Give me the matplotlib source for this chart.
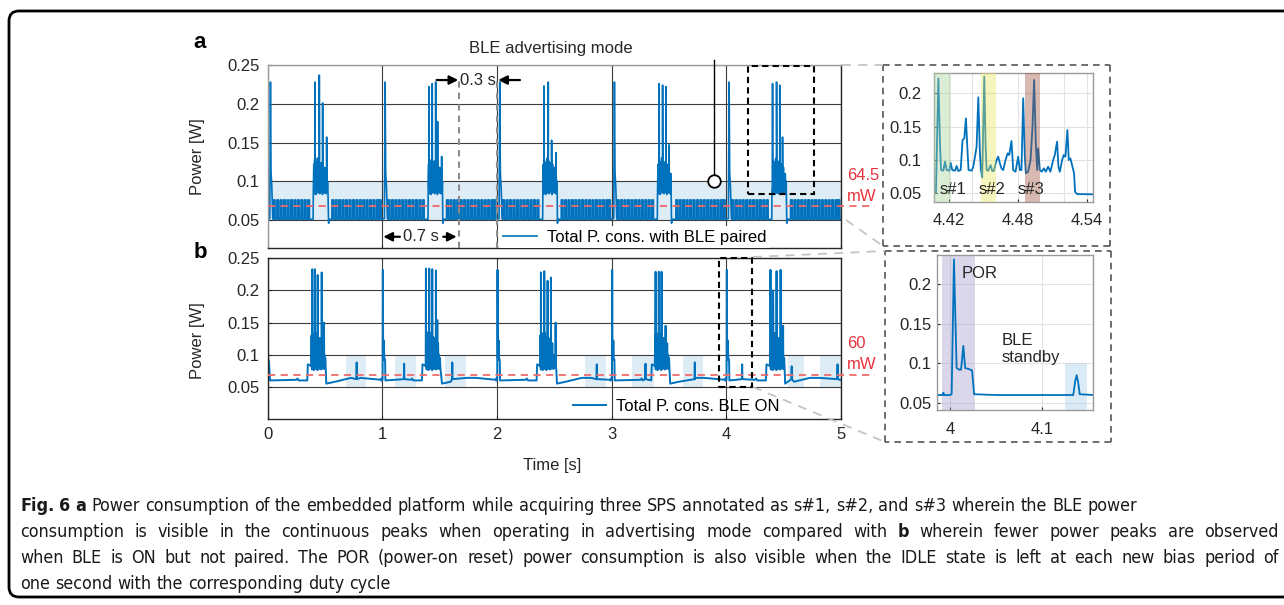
import numpy as np
import matplotlib.pyplot as plt
from matplotlib.patches import Rectangle, FancyBboxPatch
from matplotlib.lines import Line2D
from matplotlib.transforms import IdentityTransform

W, H = 1284, 605
plt.rcParams['font.family'] = ['Liberation Sans', 'DejaVu Sans']
plt.rcParams['axes.linewidth'] = 1.0

BLUE = '#0072BD'
RED = '#e8333d'
INK = '#262626'

# ---------------- data ----------------
cycles = [0, 1, 2, 3, 4]
y_ticks = [0.05, 0.1, 0.15, 0.2, 0.25]
y_labels = ['0.05', '0.1', '0.15', '0.2', '0.25']
x_ticks = [0, 1, 2, 3, 4, 5]

# (a) BLE advertising mode
a_ripple_on = [0.050, 0.080, 0.110, 0.140, 0.170, 0.200, 0.230, 0.260, 0.290, 0.320, 0.350,
               0.560, 0.590, 0.620, 0.650, 0.680, 0.710, 0.740, 0.770, 0.800, 0.830, 0.860,
               0.890, 0.920, 0.950, 0.975]
a_ripple_lo, a_ripple_hi, a_ripple_w = 0.051, 0.076, 0.014
a_por_dt = [0.018, 0.024, 0.029, 0.036, 0.044]
a_por_p = [0.052, 0.228, 0.112, 0.092, 0.052]
a_burst_start = [0.398, 1.400, 2.400, 3.400, 4.398]
a_burst_end = [0.529, 1.525, 2.525, 3.520, 4.525]
a_burst_fill = [0.088, 0.122, 0.084, 0.128, 0.090, 0.118, 0.083, 0.125, 0.092, 0.130, 0.085,
                0.120, 0.088, 0.126, 0.084, 0.115, 0.090, 0.124, 0.086, 0.118, 0.083, 0.122,
                0.089, 0.112, 0.085, 0.118, 0.087, 0.108, 0.084, 0.110, 0.086, 0.100, 0.084]
a_peak_t = [[0.412, 0.450, 0.479, 0.514],
            [1.406, 1.435, 1.465, 1.482, 1.517],
            [2.409, 2.447, 2.476, 2.514],
            [3.414, 3.444, 3.473, 3.501],
            [4.403, 4.438, 4.466, 4.490]]
a_peak_p = [[0.228, 0.237, 0.201, 0.157],
            [0.222, 0.226, 0.228, 0.177, 0.132],
            [0.223, 0.228, 0.153, 0.137],
            [0.226, 0.224, 0.222, 0.147],
            [0.226, 0.228, 0.224, 0.157]]
a_mean = 0.0685

# (b) BLE ON, not paired
b_start_t = [0.000, 0.004, 0.012, 0.020]
b_start_p = [0.122, 0.095, 0.088, 0.060]
b_por_dt = [-0.0080, -0.0072, -0.0064, 0.0018, 0.0043, 0.0072, 0.0120, 0.0135, 0.0145,
            0.0160, 0.0220, 0.0240, 0.0262]
b_por_p = [0.060, 0.063, 0.060, 0.061, 0.232, 0.094, 0.092, 0.094, 0.122,
           0.094, 0.093, 0.092, 0.060]
b_pre_dt = [0.030, 0.250, 0.260, 0.270, 0.345, 0.350]
b_pre_p = [0.060, 0.061, 0.063, 0.060, 0.060, 0.085]
b_burst_start = [0.378, 1.378, 2.374, 3.376, 4.380]
b_burst_end = [0.508, 1.517, 2.520, 3.507, 4.510]
b_burst_fill = [0.082, 0.130, 0.077, 0.135, 0.080, 0.125, 0.076, 0.132, 0.084, 0.120, 0.078,
                0.134, 0.080, 0.118, 0.076, 0.128, 0.082, 0.122, 0.078, 0.126, 0.080, 0.115,
                0.077, 0.124, 0.080, 0.112, 0.078, 0.118, 0.080, 0.100, 0.078, 0.095, 0.080]
b_post_dt = [0.003, 0.080, 0.220, 0.300]
b_post_p = [0.055, 0.058, 0.064, 0.064]
b_cycle_end_p = 0.061
b_peak_t = [[0.389, 0.412, 0.436, 0.471, 0.491],
            [1.380, 1.409, 1.435, 1.467, 1.479],
            [2.383, 2.412, 2.441, 2.470, 2.511],
            [3.383, 3.411, 3.435, 3.470],
            [4.385, 4.408, 4.438, 4.473, 4.495]]
b_peak_p = [[0.233, 0.233, 0.224, 0.228, 0.150],
            [0.234, 0.234, 0.233, 0.231, 0.154],
            [0.228, 0.230, 0.215, 0.220, 0.150],
            [0.229, 0.229, 0.229, 0.145],
            [0.232, 0.200, 0.230, 0.232, 0.145]]
b_standby_t = [0.776, 1.190, 1.610, 2.870, 3.295, 3.725, 4.138, 4.570, 4.970]
b_standby_p = [0.088, 0.086, 0.088, 0.085, 0.086, 0.088, 0.085, 0.082, 0.085]
b_shade = [(0.68, 0.855), (1.11, 1.29), (1.545, 1.726), (2.77, 2.95), (3.18, 3.37),
           (3.62, 3.80), (4.54, 4.68), (4.815, 5.0)]
b_mean = 0.069

# inset of (a): three SPS acquisitions
ia_t = [4.4073, 4.4087, 4.4099, 4.4108, 4.4122, 4.4131, 4.4151, 4.4166, 4.4180, 4.4203,
        4.4215, 4.4229, 4.4253, 4.4267, 4.4282, 4.4302, 4.4319, 4.4334, 4.4348, 4.4360,
        4.4371, 4.4398, 4.4412, 4.4427, 4.4441, 4.4456, 4.4470, 4.4479, 4.4490, 4.4499,
        4.4508, 4.4519, 4.4528, 4.4542, 4.4563, 4.4577, 4.4592, 4.4615, 4.4629, 4.4644,
        4.4658, 4.4673, 4.4693, 4.4711, 4.4725, 4.4745, 4.4760, 4.4780, 4.4803, 4.4818,
        4.4832, 4.4847, 4.4861, 4.4870, 4.4890, 4.4911, 4.4928, 4.4942, 4.4957, 4.4969,
        4.4977, 4.4992, 4.5009, 4.5027, 4.5044, 4.5064, 4.5084, 4.5108, 4.5122, 4.5142,
        4.5154, 4.5166, 4.5186, 4.5200, 4.5215, 4.5232, 4.5244, 4.5258, 4.5276, 4.5290,
        4.5299, 4.5316, 4.5455]
ia_p = [0.0515, 0.0515, 0.150, 0.2225, 0.125, 0.085, 0.084, 0.0975, 0.085, 0.084,
        0.096, 0.085, 0.084, 0.091, 0.0835, 0.085, 0.130, 0.1325, 0.1625, 0.120,
        0.085, 0.084, 0.090, 0.105, 0.120, 0.194, 0.110, 0.085, 0.074, 0.150,
        0.225, 0.125, 0.085, 0.084, 0.0925, 0.0835, 0.084, 0.100, 0.105, 0.095,
        0.0875, 0.085, 0.100, 0.110, 0.1075, 0.1285, 0.085, 0.0825, 0.105, 0.085,
        0.085, 0.1925, 0.105, 0.080, 0.0825, 0.100, 0.150, 0.220, 0.125, 0.085,
        0.1175, 0.085, 0.0825, 0.0875, 0.0825, 0.090, 0.0825, 0.100, 0.1075, 0.1275,
        0.090, 0.0825, 0.100, 0.1075, 0.105, 0.145, 0.100, 0.1025, 0.090, 0.080,
        0.0525, 0.049, 0.0485]
ia_shade = [(4.4073, 4.4215, '#a8d498'), (4.4479, 4.4609, '#e6e65c'), (4.4861, 4.4991, '#9b503e')]
ia_tags = [(4.4115, 's#1'), (4.4455, 's#2'), (4.4800, 's#3')]

# inset of (b): power-on reset and BLE standby
ib_t = [3.9862, 3.9920, 3.9928, 3.9936, 4.0000, 4.0018, 4.0043, 4.0072, 4.0100, 4.0120,
        4.0145, 4.0165, 4.0200, 4.0240, 4.0262, 4.0500, 4.1000, 4.1340, 4.1362, 4.1377,
        4.1395, 4.1410, 4.1558]
ib_p = [0.060, 0.060, 0.063, 0.060, 0.060, 0.061, 0.231, 0.094, 0.092, 0.092,
        0.122, 0.094, 0.093, 0.091, 0.061, 0.060, 0.060, 0.060, 0.078, 0.085,
        0.075, 0.061, 0.060]
ib_por = (3.9917, 4.0272)
ib_standby = (4.125, 4.1486)

# caption, one entry per printed line: (text, bold) runs and whether the line is justified
caption_lines = [
    ([('Fig. 6 a', True), ('Power consumption of the embedded platform while acquiring three SPS '
                           'annotated as s#1, s#2, and s#3 wherein the BLE power', False)], False),
    ([('consumption is visible in the continuous peaks when operating in advertising mode '
       'compared with', False), ('b', True), ('wherein fewer power peaks are observed', False)], True),
    ([('when BLE is ON but not paired. The POR (power-on reset) power consumption is also visible '
       'when the IDLE state is left at each new bias period of', False)], True),
    ([('one second with the corresponding duty cycle', False)], False),
]


# ---------------- build traces ----------------
def add_spike(pts, t, p, base, half=0.0018):
    pts += [(t - half, base), (t, p), (t + half, base)]


pts = [(0.0, a_ripple_lo), (5.0, a_ripple_lo)]
for k in cycles:
    pts += [(k + dt, p) for dt, p in zip(a_por_dt, a_por_p)]
    for o in a_ripple_on:
        t0 = k + o
        pts += [(t0, a_ripple_lo), (t0 + 0.0005, a_ripple_hi),
                (t0 + a_ripple_w, a_ripple_hi), (t0 + a_ripple_w + 0.0005, a_ripple_lo)]
    s, e = a_burst_start[k], a_burst_end[k]
    pts += [(s + 0.004 * i, v) for i, v in enumerate(a_burst_fill) if s + 0.004 * i < e]
    pts += [(s - 0.002, a_ripple_lo), (e + 0.002, 0.046), (e + 0.010, a_ripple_lo)]
    for t, p in zip(a_peak_t[k], a_peak_p[k]):
        add_spike(pts, t, p, 0.092)
pts.sort()
a_t = np.array([q[0] for q in pts])
a_p = np.array([q[1] for q in pts])

pts = list(zip(b_start_t, b_start_p))
for k in cycles:
    if k > 0:
        pts += [(k + dt, p) for dt, p in zip(b_por_dt, b_por_p)]
    pts += [(k + dt, p) for dt, p in zip(b_pre_dt, b_pre_p)]
    s, e = b_burst_start[k], b_burst_end[k]
    pts += [(s - 0.002, 0.083)]
    pts += [(s + 0.004 * i, v) for i, v in enumerate(b_burst_fill) if s + 0.004 * i < e]
    pts += [(e + dt, p) for dt, p in zip(b_post_dt, b_post_p)]
    pts += [(k + 0.990, b_cycle_end_p)]
    for t, p in zip(b_peak_t[k], b_peak_p[k]):
        add_spike(pts, t, p, 0.090)
for t, p in zip(b_standby_t, b_standby_p):
    pts += [(t - 0.003, 0.062), (t - 0.001, p - 0.006), (t, p), (t + 0.002, 0.062)]
pts.append((5.0, 0.061))
pts.sort()
b_t = np.array([q[0] for q in pts])
b_p = np.array([q[1] for q in pts])


# ---------------- figure ----------------
fig = plt.figure(figsize=(W / 100, H / 100), dpi=100)


def ax_px(l, t, r, b):
    return fig.add_axes([l / W, 1 - b / H, (r - l) / W, (b - t) / H])


def style_main(ax):
    ax.set_xlim(0, 5)
    ax.set_xticks(x_ticks)
    ax.set_yticks(y_ticks)
    ax.set_yticklabels(y_labels)
    ax.grid(True, color='#3c3c3c', lw=0.8)
    ax.set_axisbelow(True)
    ax.tick_params(direction='in', length=3, colors=INK, labelsize=12, pad=6)
    for s in ax.spines.values():
        s.set_color(INK)


axa = ax_px(267.7, 65, 841, 248)
axb = ax_px(267.7, 258.3, 841, 419)
style_main(axa)
style_main(axb)
axa.set_ylim(0.014, 0.25)
axb.set_ylim(0.0, 0.25)
axa.tick_params(labelbottom=False)
axa.spines['left'].set_color('#999999')
axa.spines['top'].set_color('#999999')

# panel a
axa.axhspan(0.05, 0.1, color='#deecf6', zorder=0.2, lw=0)
axa.plot(a_t, a_p, color=BLUE, lw=1.2, label='Total P. cons. with BLE paired', zorder=2)
axa.plot([0, 5.30], [a_mean, a_mean], color='#ef6b6b', lw=1.3, ls=(0, (4, 3)), clip_on=False, zorder=3)
axa.text(5.05, 0.108, '64.5', color=RED, fontsize=12, va='center', ha='left')
axa.text(5.05, 0.080, 'mW', color=RED, fontsize=12, va='center', ha='left')
for tx in (1.67, 2.0):
    axa.plot([tx, tx], [0.014, 0.231], color='#8c8c8c', lw=1.5, ls=(0, (3, 2.5)), zorder=3)
arr = dict(arrowstyle='-|>', color='k', lw=1.6, mutation_scale=13, shrinkA=0, shrinkB=0)
axa.annotate('', xy=(1.662, 0.2306), xytext=(1.473, 0.2306), arrowprops=arr)
axa.annotate('', xy=(2.01, 0.2306), xytext=(2.20, 0.2306), arrowprops=arr)
axa.text(1.83, 0.2306, '0.3 s', fontsize=12, ha='center', va='center', color=INK)
axa.annotate('', xy=(1.008, 0.0285), xytext=(1.153, 0.0285), arrowprops=arr)
axa.annotate('', xy=(1.648, 0.0285), xytext=(1.531, 0.0285), arrowprops=arr)
axa.text(1.337, 0.0285, '0.7 s', fontsize=12, ha='center', va='center', color=INK)
axa.plot([3.894, 3.894], [0.1, 0.257], color='k', lw=1.0, clip_on=False, zorder=4)
axa.plot([3.894], [0.1], 'o', ms=9, mfc='white', mec='k', mew=1.3, zorder=5)
axa.add_patch(Rectangle((4.185, 0.0832), 0.58, 0.1655, fill=False, ec='k', lw=1.5,
                        ls=(0, (3, 2)), zorder=4))
la = axa.legend(loc='lower left', bbox_to_anchor=(0.405, 0.0), borderaxespad=0, borderpad=0.2,
                fontsize=12, frameon=True, facecolor='white', edgecolor='none', framealpha=1,
                handlelength=2.0, handletextpad=0.6, fancybox=False)
la.get_frame().set_linewidth(0)

# panel b
for x0, x1 in b_shade:
    axb.axvspan(x0, x1, ymin=0.05 / 0.25, ymax=0.1 / 0.25, color='#deecf6', zorder=0.2, lw=0)
axb.plot(b_t, b_p, color=BLUE, lw=1.4, label='Total P. cons. BLE ON', zorder=2)
axb.plot([0, 5.30], [b_mean, b_mean], color='#ef6b6b', lw=1.3, ls=(0, (4, 3)), clip_on=False, zorder=3)
axb.text(5.05, 0.118, '60', color=RED, fontsize=12, va='center', ha='left')
axb.text(5.05, 0.0846, 'mW', color=RED, fontsize=12, va='center', ha='left')
axb.add_patch(Rectangle((3.937, 0.05), 0.291, 0.2, fill=False, ec='k', lw=1.5,
                        ls=(0, (3, 2)), zorder=4, clip_on=False))
axb.legend(loc='lower left', bbox_to_anchor=(0.527, 0.012), borderaxespad=0, borderpad=0.2,
           fontsize=12, frameon=False, handlelength=2.0, handletextpad=0.6)
axb.set_xticklabels([str(v) for v in x_ticks])

for ax, yc in ((axa, 0.5), (axb, 0.49)):
    ax.set_ylabel('Power [W]', fontsize=12, color=INK)
    ax.yaxis.set_label_coords(-0.109, yc)
axb.set_xlabel('Time [s]', fontsize=12, color=INK)
axb.xaxis.set_label_coords(0.496, -0.245)


# insets
def style_inset(ax, pad_x, pad_y):
    ax.grid(True, color='#e2e2e2', lw=0.8)
    ax.set_axisbelow(True)
    ax.tick_params(direction='in', length=2, colors=INK, labelsize=12)
    ax.tick_params(axis='x', pad=pad_x)
    ax.tick_params(axis='y', pad=pad_y)
    for s in ax.spines.values():
        s.set_color('#9a9a9a')


axi = ax_px(934, 73, 1093, 201.7)
axi.plot(ia_t, ia_p, color=BLUE, lw=1.3, zorder=2)
for x0, x1, c in ia_shade:
    axi.axvspan(x0, x1, color=c, alpha=0.4, lw=0, zorder=3)
for x, s in ia_tags:
    axi.text(x, 0.0555, s, fontsize=12, color=INK, ha='left', va='center', zorder=4)
axi.set_xlim(4.407, 4.5455)
axi.set_ylim(0.0375, 0.2305)
axi.set_xticks([4.42, 4.48, 4.54])
axi.set_xticks([4.44, 4.52], minor=True)
axi.set_yticks([0.05, 0.1, 0.15, 0.2])
axi.set_yticklabels(['0.05', '0.1', '0.15', '0.2'])
axi.grid(True, which='minor', color='#e2e2e2', lw=0.8)
axi.tick_params(which='minor', length=0)
style_inset(axi, 8, 9)

axj = ax_px(937.3, 255, 1093.3, 410)
axj.axvspan(*ib_por, color='#a79bcd', alpha=0.4, lw=0, zorder=1)
axj.axvspan(*ib_standby, ymax=(0.1 - 0.0411) / (0.2366 - 0.0411), color='#a7cde6', alpha=0.4,
            lw=0, zorder=1)
axj.plot(ib_t, ib_p, color=BLUE, lw=1.3, zorder=2)
axj.set_xlim(3.9862, 4.1558)
axj.set_ylim(0.0411, 0.2366)
axj.set_xticks([4.0, 4.1])
axj.set_xticklabels(['4', '4.1'])
axj.set_yticks([0.05, 0.1, 0.15, 0.2])
axj.set_yticklabels(['0.05', '0.1', '0.15', '0.2'])
style_inset(axj, 9, 4)
axj.text(4.0125, 0.2135, 'POR', fontsize=12, color=INK, ha='left', va='center')
axj.text(4.056, 0.129, 'BLE', fontsize=12, color=INK, ha='left', va='center')
axj.text(4.056, 0.107, 'standby', fontsize=12, color=INK, ha='left', va='center')


# ---------------- frames, connectors, text in pixel space ----------------
def seg(x0, y0, x1, y1, color, lw, ls):
    fig.add_artist(Line2D([x0, x1], [H - y0, H - y1], color=color, lw=lw, ls=ls,
                          transform=IdentityTransform()))


def box(l, t, r, b):
    for a0, b0, a1, b1 in ((l, t, r, t), (r, t, r, b), (r, b, l, b), (l, b, l, t)):
        seg(a0, b0, a1, b1, '#555555', 1.2, (0, (4, 3)))


box(883, 65, 1110, 246)
box(885, 251, 1111, 442)
gray = '#c4c4c4'
seg(842, 65, 883, 65, gray, 1.3, (0, (5, 4)))
seg(846, 220, 883, 246, gray, 1.3, (0, (5, 4)))
seg(753, 257, 885, 251, gray, 1.3, (0, (5, 4)))
seg(753, 387, 885, 442, gray, 1.3, (0, (5, 4)))

fig.add_artist(FancyBboxPatch((9, 8), 1300, 586, boxstyle='round,pad=0,rounding_size=10',
                              fill=False, ec='k', lw=2.0, transform=IdentityTransform()))

fig.text(200 / W, 1 - 43 / H, 'a', fontsize=16, fontweight='bold', ha='center', va='center')
fig.text(200 / W, 1 - 253 / H, 'b', fontsize=16, fontweight='bold', ha='center', va='center')
fig.text(550.7 / W, 1 - 48 / H, 'BLE advertising mode', fontsize=12, ha='center', va='center',
         color=INK)

# caption: word by word, sized from the first line, the two full lines justified
CAP_FONT = ['Liberation Sans Narrow', 'DejaVu Sans']
CAP_X0, CAP_X1 = 20.0, 1279.0
fig.canvas.draw()
rend = fig.canvas.get_renderer()


def text_w(s, fs, bold=False):
    t = fig.text(0, 0, s, fontsize=fs, family=CAP_FONT, stretch='condensed',
                 fontweight='bold' if bold else 'normal')
    w = t.get_window_extent(rend).width
    t.remove()
    return w


def line_words(runs):
    return [(w, b) for txt, b in runs for w in txt.split()]


words0 = line_words(caption_lines[0][0])
w0 = sum(text_w(w, 15, b) for w, b in words0) + (len(words0) - 1) * (
    text_w('x x', 15) - text_w('xx', 15))
cap_fs = 15.0 * 1120 / w0
space = text_w('x x', cap_fs) - text_w('xx', cap_fs)

for i, (runs, justify) in enumerate(caption_lines):
    words = line_words(runs)
    widths = [text_w(w, cap_fs, b) for w, b in words]
    gap = space
    if justify and len(words) > 1:
        gap = max(space, (CAP_X1 - CAP_X0 - sum(widths)) / (len(words) - 1))
    x = CAP_X0
    y = 511 + 26 * i
    for (w, b), wd in zip(words, widths):
        fig.text(x / W, 1 - y / H, w, fontsize=cap_fs, family=CAP_FONT, stretch='condensed',
                 fontweight='bold' if b else 'normal', ha='left', va='baseline', color='#1a1a1a')
        x += wd + gap

fig.savefig('out.png', dpi=100)
